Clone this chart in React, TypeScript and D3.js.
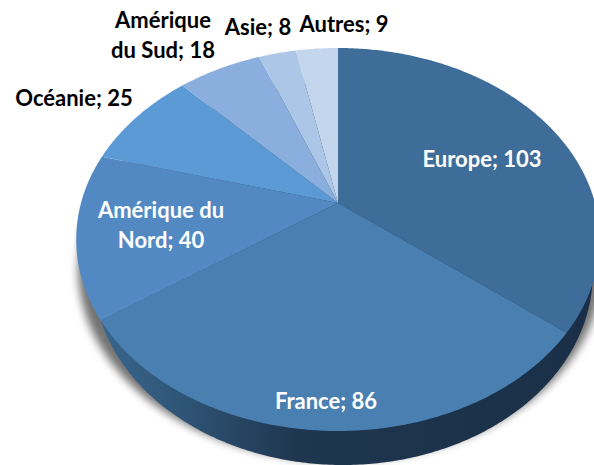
import React from "react";
import * as d3 from "d3";

const categories = ["Europe", "France", "Amérique du Nord", "Océanie", "Amérique du Sud", "Asie", "Autres"];
const values = [103, 86, 40, 25, 18, 8, 9];
const sliceColors = ["#3f6d99", "#4a7fb2", "#5389c3", "#5b9ad5", "#8aaede", "#abc6e6", "#c4d6ec"];

// Wrapped label text, one list per category
const labelLines = [
  ["Europe; 103"],
  ["France; 86"],
  ["Amérique du", "Nord; 40"],
  ["Océanie; 25"],
  ["Amérique", "du Sud; 18"],
  ["Asie; 8"],
  ["Autres; 9"],
];

const W = 594;
const H = 465;
// Label layout: centre x, first baseline y, colour
const labelLayout: [number, number, string][] = [
  [482, 167, "#fff"],
  [326, 409, "#fff"],
  [161, 218, "#fff"],
  [74, 106, "#000"],
  [163, 28, "#000"],
  [258, 35, "#000"],
  [344, 32, "#000"],
];
const LINE = 30;

// Tilted disc with perspective: the centre of the pie projects above the ellipse centre
const cx = 338;
const k = 257;
const A = 203;
const B = -145.85;
const C = 0.1906;
const project = (theta: number, radius = 1): [number, number] => {
  const u = Math.sin(theta) * radius;
  const v = Math.cos(theta) * radius;
  const w = 1 + C * v;
  return [cx + (k * u) / w, (A + B * v) / w];
};

const pie = d3.pie<number>().sort(null).startAngle(0).endAngle(2 * Math.PI);
const arcs = pie(values);
const line = d3.line();

const sweep = (a0: number, a1: number) => {
  const n = Math.max(2, Math.ceil((a1 - a0) / 0.01));
  return d3.range(n + 1).map((i) => project(a0 + ((a1 - a0) * i) / n));
};
const slicePath = (a0: number, a1: number) => line([project(0, 0), ...sweep(a0, a1)]) + "Z";
const full = 2 * Math.PI;

// The underside of the disc: narrower, lower and slightly to the right of the top face
const underside = (shiftX: number, scaleX: number, drop: number) =>
  line(sweep(0, full).map(([x, y]) => [cx + shiftX + (x - cx) * scaleX, y + drop] as [number, number])) + "Z";

export default function App() {
  return (
    <svg width={W} height={H} viewBox={`0 0 ${W} ${H}`} style={{ position: "absolute", left: 0, top: 0, background: "#fff" }}>
      <defs>
        <linearGradient id="side" gradientUnits="userSpaceOnUse" x1={76} x2={600} y1={0} y2={0}>
          <stop offset="0" stopColor="#3b6b94" />
          <stop offset="0.2" stopColor="#2f5576" />
          <stop offset="0.42" stopColor="#1f3650" />
          <stop offset="1" stopColor="#1a2f47" />
        </linearGradient>
        <filter id="soft" x="-10%" y="-10%" width="120%" height="120%">
          <feGaussianBlur stdDeviation="4.5" />
        </filter>
      </defs>
      <path d={underside(2, 1.0, 30)} fill="#000" opacity={0.55} filter="url(#soft)" />
      <path d={underside(5, 0.954, 34)} fill="url(#side)" />
      {arcs.map((a, i) => (
        <path key={categories[i]} d={slicePath(a.startAngle, a.endAngle)} fill={sliceColors[i]} />
      ))}
      {labelLines.map((lines, i) => (
        <text
          key={categories[i]}
          textAnchor="middle"
          fontFamily="Lato, sans-serif"
          fontWeight={700}
          fontSize={22}
          fill={labelLayout[i][2]}
        >
          {lines.map((t, j) => (
            <tspan key={t} x={labelLayout[i][0]} y={labelLayout[i][1] + j * LINE}>
              {t}
            </tspan>
          ))}
        </text>
      ))}
    </svg>
  );
}
